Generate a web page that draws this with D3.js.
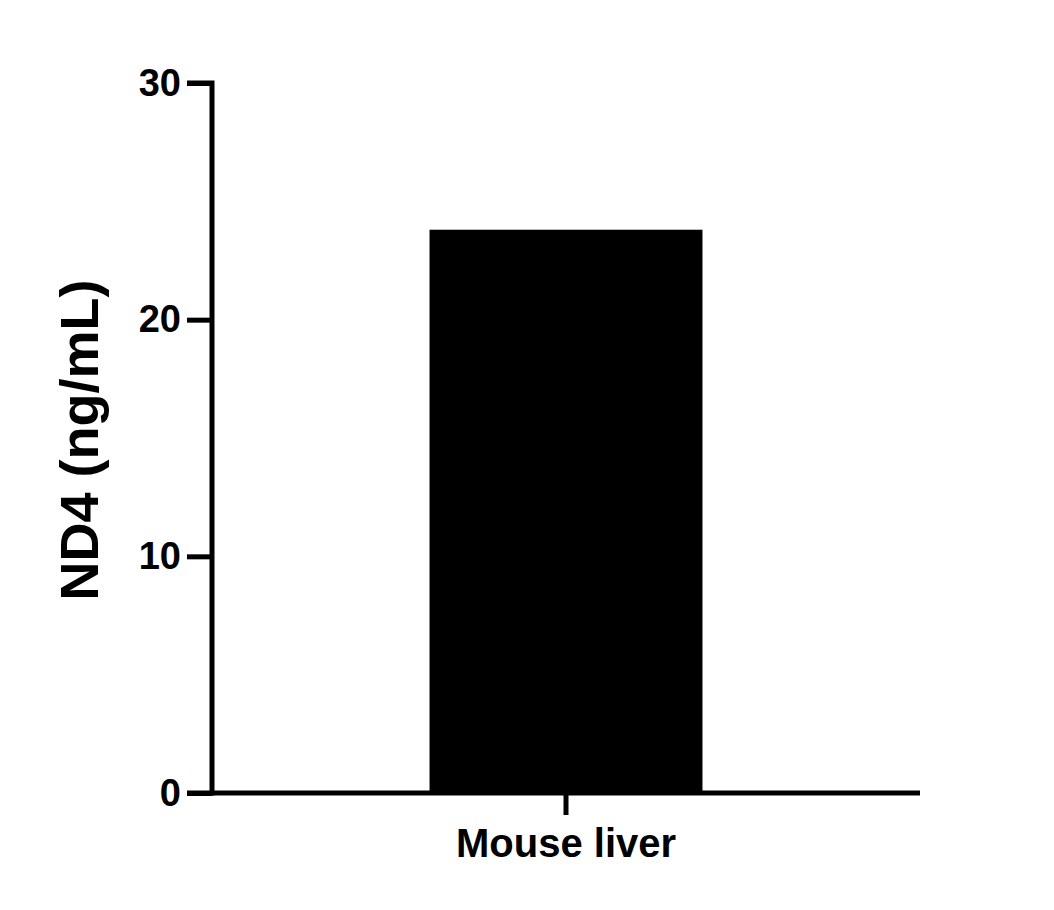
<!DOCTYPE html>
<html>
<head>
<meta charset="utf-8">
<script src="https://cdn.jsdelivr.net/npm/d3@7"></script>
<style>
  body { margin: 0; background: #fff; }
  text { font-family: "Liberation Sans", Arial, sans-serif; font-weight: bold; }
</style>
</head>
<body>
<svg id="chart" width="1054" height="910"></svg>
<script>
// chart data
var categories = ['Mouse liver'];
var values = [23.8];
var yTicks = [0, 10, 20, 30];

var svg = d3.select('#chart');
var plotLeft = 212, plotRight = 920, plotTop = 83, plotBottom = 793;

var x = d3.scaleBand().domain(categories).range([plotLeft, plotRight]).padding(0.4435);
var y = d3.scaleLinear().domain([0, 30]).range([plotBottom, plotTop]);

// bars
svg.selectAll('rect.bar')
  .data(categories)
  .enter()
  .append('rect')
  .attr('class', 'bar')
  .attr('x', d => x(d))
  .attr('width', x.bandwidth())
  .attr('y', (d, i) => y(values[i]))
  .attr('height', (d, i) => plotBottom - y(values[i]))
  .attr('fill', '#000');

// y axis
var yAxis = svg.append('g')
  .attr('transform', `translate(${plotLeft},0)`)
  .call(d3.axisLeft(y).tickValues(yTicks).tickSize(25).tickPadding(6).tickFormat(d3.format('d')));

// x axis
var xAxis = svg.append('g')
  .attr('transform', `translate(0,${plotBottom})`)
  .call(d3.axisBottom(x).tickSize(22).tickPadding(14).tickSizeOuter(0));

[yAxis, xAxis].forEach(g => {
  g.selectAll('path, line').attr('stroke', '#000').attr('stroke-width', 5);
  g.selectAll('text').attr('fill', '#000');
});
yAxis.selectAll('text').style('font-size', '38px');
xAxis.selectAll('text').style('font-size', '40px');
xAxis.select('path.domain').attr('d', `M${plotLeft},0H${plotRight}`);
yAxis.select('path.domain').attr('d', `M-25,${plotTop}H0V${plotBottom}H-25`);

// y axis title
svg.append('text')
  .attr('transform', 'translate(98,440) rotate(-90)')
  .attr('text-anchor', 'middle')
  .style('font-size', '54px')
  .text('ND4 (ng/mL)');
</script>
</body>
</html>
